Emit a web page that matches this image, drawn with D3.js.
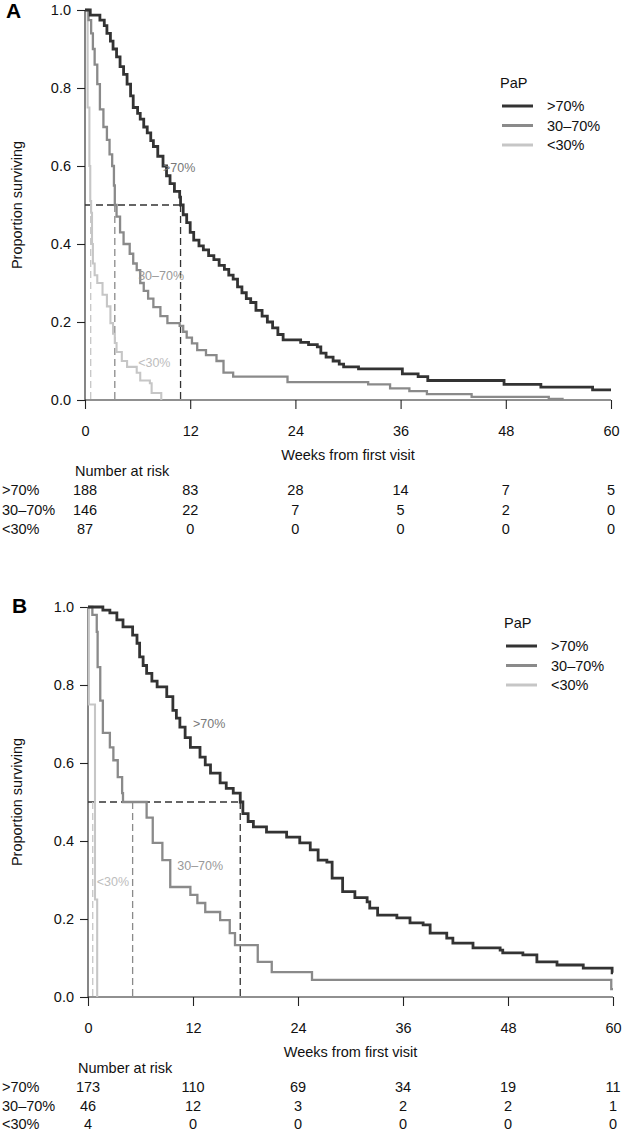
<!DOCTYPE html>
<html>
<head>
  <meta charset="utf-8">
  <script src="https://cdn.jsdelivr.net/npm/d3@7"></script>
  <style>
    html, body { margin:0; padding:0; background:#fff; }
    svg { display:block; font-family:"Liberation Sans", Arial, Helvetica, sans-serif; }
  </style>
</head>
<body>
<script>

  // ---- data (weeks, proportion surviving) ----
  var groups = [">70%", "30–70%", "<30%"];
  var riskTimes = [0, 12, 24, 36, 48, 60];
  var xTicks = [0, 12, 24, 36, 48, 60];
  var yTicks = [0, 0.2, 0.4, 0.6, 0.8, 1.0];

  // panel A
  var timeA_hi = [0,0.6,1.7,2.2,2.5,2.9,3.2,3.6,4.0,4.4,4.8,5.2,5.5,6.0,6.3,6.7,7.1,7.5,7.8,8.3,8.9,9.3,9.7,10.2,10.8,10.9,11.2,11.6,12.0,12.4,13.0,13.5,14.1,14.7,15.3,15.9,16.4,16.9,17.4,17.9,18.4,18.9,19.5,20.2,20.8,21.4,22.0,22.6,24.6,25.5,26.5,26.9,27.5,28.3,29.0,29.5,31.2,36.2,38.0,39.1,47.8,52.0,57.9,60];
  var survA_hi = [1,0.987,0.974,0.96,0.94,0.92,0.90,0.88,0.855,0.835,0.81,0.78,0.75,0.735,0.72,0.70,0.685,0.665,0.65,0.625,0.60,0.575,0.555,0.535,0.52,0.50,0.475,0.455,0.43,0.41,0.395,0.385,0.37,0.36,0.345,0.335,0.32,0.31,0.29,0.275,0.26,0.25,0.23,0.215,0.20,0.185,0.168,0.154,0.148,0.142,0.136,0.12,0.11,0.10,0.092,0.085,0.08,0.067,0.06,0.05,0.04,0.033,0.026,0.026];
  var timeA_mid = [0,0.4,0.7,0.9,1.1,1.4,1.7,2.1,2.5,2.8,3.1,3.3,3.4,3.6,4.0,4.4,5.1,5.5,5.9,6.3,6.7,7.2,7.8,8.6,9.4,10.8,11.2,11.6,12.2,12.8,13.8,15.0,15.8,16.9,23.1,32.3,34.8,37.0,39.0,44.1,52.9,54.6];
  var survA_mid = [1,0.974,0.94,0.90,0.86,0.81,0.745,0.70,0.667,0.63,0.60,0.55,0.50,0.47,0.43,0.40,0.375,0.35,0.333,0.30,0.28,0.26,0.238,0.215,0.197,0.19,0.175,0.16,0.145,0.128,0.115,0.10,0.07,0.06,0.046,0.04,0.03,0.023,0.015,0.008,0.003,0.003];
  var timeA_lo = [0,0.3,0.5,0.6,0.7,0.8,0.9,1.1,1.4,2.0,2.5,2.9,3.2,3.4,3.6,4.2,4.8,5.9,6.3,7.4,7.6,8.7];
  var survA_lo = [1,0.75,0.60,0.51,0.48,0.40,0.35,0.32,0.30,0.27,0.24,0.197,0.17,0.146,0.123,0.10,0.085,0.07,0.05,0.043,0.018,0];
  var medianA = [10.9, 3.4, 0.65];
  var riskA_hi = [188, 83, 28, 14, 7, 5];
  var riskA_mid = [146, 22, 7, 5, 2, 0];
  var riskA_lo = [87, 0, 0, 0, 0, 0];

  // panel B
  var timeB_hi = [0,1.7,2.5,3.3,4.0,5.1,5.6,5.9,6.3,6.7,7.3,7.9,9.0,9.7,10.1,10.5,11.1,11.7,12.8,13.4,14.0,15.1,15.8,16.6,17.4,17.7,18.3,18.9,20.4,22.7,24.2,25.4,26.3,27.3,27.9,29.1,30.5,31.9,32.2,33.1,35.3,36.8,38.3,39.1,41.0,41.7,44.0,47.1,47.4,49.7,51.3,53.6,56.6,59.9,60];
  var survB_hi = [1,0.992,0.985,0.967,0.949,0.928,0.907,0.872,0.85,0.83,0.81,0.795,0.77,0.735,0.715,0.692,0.665,0.64,0.615,0.595,0.574,0.549,0.535,0.523,0.50,0.47,0.45,0.436,0.423,0.41,0.395,0.377,0.351,0.346,0.305,0.27,0.255,0.244,0.228,0.21,0.203,0.19,0.185,0.164,0.151,0.138,0.126,0.12,0.113,0.108,0.09,0.082,0.074,0.062,0.062];
  var timeB_mid = [0,0.5,1.0,1.1,1.4,1.7,2.5,2.9,3.4,3.9,4.0,6.7,7.4,8.5,9.4,11.7,12.5,13.4,15.1,16.2,16.8,19.4,21.0,25.6,59.8,60];
  var survB_mid = [1,0.98,0.936,0.846,0.76,0.677,0.64,0.607,0.564,0.523,0.50,0.46,0.395,0.351,0.282,0.262,0.241,0.218,0.197,0.164,0.133,0.09,0.064,0.044,0.02,0.02];
  var timeB_lo = [0,0.1,0.8,1.05];
  var survB_lo = [1,0.75,0.25,0];
  var medianB = [17.4, 5.1, 0.54];
  var riskB_hi = [173, 110, 69, 34, 19, 11];
  var riskB_mid = [46, 12, 3, 2, 2, 1];
  var riskB_lo = [4, 0, 0, 0, 0, 0];

  var colors = ["#333333", "#8a8a8a", "#c6c6c6"];
  var widths = [2.8, 2.3, 2.1];
  var labelColors = ["#777777", "#999999", "#bdbdbd"];

  var W = 623, H = 1133;
  var svg = d3.select("body").append("svg").attr("width", W).attr("height", H);

  var panels = [
    { tag: "A", x0: 85, x1: 611, top: 10, bottom: 400, tagX: 6, tagY: 18,
      curves: [[timeA_hi, survA_hi], [timeA_mid, survA_mid], [timeA_lo, survA_lo]],
      medians: medianA, risk: [riskA_hi, riskA_mid, riskA_lo],
      labels: [[8.9, 0.597], [6.06, 0.318], [6.06, 0.095]],
      legX: 500, legY: 83, rowStep: 19.5 },
    { tag: "B", x0: 88, x1: 613, top: 607, bottom: 997, tagX: 12, tagY: 613,
      curves: [[timeB_hi, survB_hi], [timeB_mid, survB_mid], [timeB_lo, survB_lo]],
      medians: medianB, risk: [riskB_hi, riskB_mid, riskB_lo],
      labels: [[12.0, 0.70], [10.2, 0.338], [1.0, 0.297]],
      legX: 504, legY: 623, rowStep: 18.5 }
  ];

  panels.forEach(function(p) {
    var g = svg.append("g");
    var x = d3.scaleLinear().domain([0, 60]).range([p.x0, p.x1]);
    var y = d3.scaleLinear().domain([0, 1]).range([p.bottom, p.top]);

    // panel letter
    g.append("text").attr("x", p.tagX).attr("y", p.tagY)
      .attr("font-size", 21).attr("font-weight", "bold").text(p.tag);

    // axes
    var ya = g.append("g").attr("transform", "translate(" + p.x0 + ",0)")
      .call(d3.axisLeft(y).tickValues(yTicks).tickFormat(d3.format(".1f")).tickSize(8).tickPadding(6));
    var xa = g.append("g").attr("transform", "translate(0," + p.bottom + ")")
      .call(d3.axisBottom(x).tickValues(xTicks).tickSize(9).tickPadding(17));
    [ya, xa].forEach(function(a) {
      a.select(".domain").attr("stroke", "#222").attr("stroke-width", 1.1);
      a.selectAll(".tick line").attr("stroke", "#222").attr("stroke-width", 1.1);
      a.selectAll("text").attr("font-size", 14.5).attr("fill", "#111")
        .attr("font-family", "Liberation Sans, Arial, sans-serif");
    });
    xa.select(".domain").attr("d", "M" + p.x0 + ",0H" + p.x1);
    ya.select(".domain").attr("d", "M0," + p.top + "V" + p.bottom);

    g.append("text")
      .attr("transform", "translate(22," + ((p.top + p.bottom) / 2) + ") rotate(-90)")
      .attr("text-anchor", "middle").attr("font-size", 14.5).attr("fill", "#111")
      .text("Proportion surviving");

    g.append("text").attr("x", (p.x0 + p.x1) / 2).attr("y", p.bottom + 60)
      .attr("text-anchor", "middle").attr("font-size", 14.5).attr("fill", "#111")
      .text("Weeks from first visit");

    // median dashed lines
    g.append("line")
      .attr("x1", x(0)).attr("x2", x(p.medians[0]))
      .attr("y1", y(0.5)).attr("y2", y(0.5))
      .attr("stroke", colors[0]).attr("stroke-width", 1.3).attr("stroke-dasharray", "7,4");
    p.medians.forEach(function(m, i) {
      g.append("line")
        .attr("x1", x(m)).attr("x2", x(m))
        .attr("y1", y(0.5)).attr("y2", y(0))
        .attr("stroke", colors[i]).attr("stroke-width", 1.3).attr("stroke-dasharray", "7,4");
    });

    // survival curves, lightest first
    var line = d3.line().curve(d3.curveStepAfter)
      .x(function(d) { return x(d[0]); })
      .y(function(d) { return y(d[1]); });
    for (var i = p.curves.length - 1; i >= 0; i--) {
      var pts = d3.zip(p.curves[i][0], p.curves[i][1]);
      g.append("path").attr("d", line(pts))
        .attr("fill", "none").attr("stroke", colors[i]).attr("stroke-width", widths[i]);
    }

    // curve labels
    p.labels.forEach(function(l, i) {
      g.append("text").attr("x", x(l[0])).attr("y", y(l[1]))
        .attr("dy", "0.35em").attr("font-size", 12.5).attr("fill", labelColors[i])
        .text(groups[i]);
    });

    // legend
    g.append("text").attr("x", p.legX).attr("y", p.legY).attr("dy", "0.35em")
      .attr("font-size", 14.5).attr("fill", "#111").text("PaP");
    groups.forEach(function(name, i) {
      var ly = p.legY + 23 + i * 19.5;
      g.append("line").attr("x1", p.legX + 2).attr("x2", p.legX + 33)
        .attr("y1", ly).attr("y2", ly)
        .attr("stroke", colors[i]).attr("stroke-width", 3);
      g.append("text").attr("x", p.legX + 47).attr("y", ly).attr("dy", "0.35em")
        .attr("font-size", 14.5).attr("fill", "#111").text(name);
    });

    // number at risk table
    g.append("text").attr("x", x(0) - 10).attr("y", p.bottom + 71).attr("dy", "0.35em")
      .attr("font-size", 14.5).attr("fill", "#111").text("Number at risk");
    groups.forEach(function(name, i) {
      var ry = p.bottom + 90 + i * p.rowStep;
      g.append("text").attr("x", 2).attr("y", ry).attr("dy", "0.35em")
        .attr("font-size", 14.5).attr("fill", "#111").text(name);
      g.selectAll(null).data(p.risk[i]).enter().append("text")
        .attr("x", function(d, j) { return x(riskTimes[j]); })
        .attr("y", ry).attr("dy", "0.35em").attr("text-anchor", "middle")
        .attr("font-size", 14.5).attr("fill", "#111")
        .text(function(d) { return d; });
    });
  });

</script>
</body>
</html>
